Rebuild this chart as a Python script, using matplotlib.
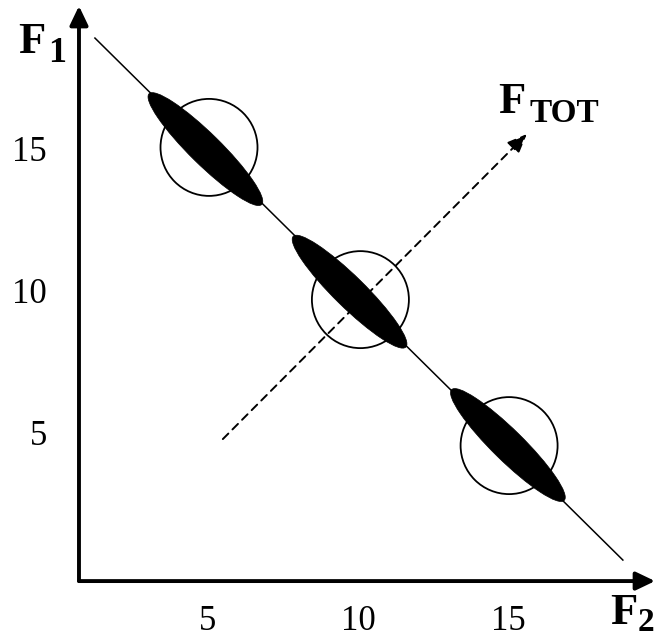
import numpy as np
import matplotlib
matplotlib.use("Agg")
import matplotlib.pyplot as plt
from matplotlib.patches import Ellipse
import matplotlib.transforms as mtransforms

# data
tick_vals = [5, 10, 15]
circle_x = [5.05, 10.08, 15.02]
circle_y = [15.18, 9.82, 4.68]
ell_x = [4.93, 9.72, 14.98]
ell_y = [15.12, 10.10, 4.70]
line_x = [1.26, 18.8]
line_y = [19.03, 0.65]
tot_start = (5.51, 4.91)
tot_end = (15.61, 15.65)
origin = (0.73, -0.09)
x_tip = (19.87, -0.09)
y_tip = (0.73, 20.16)

fig = plt.figure(figsize=(6.57, 6.4), dpi=100)
ax = fig.add_axes([0, 0, 1, 1])
ax.set_xlim(-1.894, 19.934)
ax.set_ylim(-2.165, 20.37)
ax.axis("off")

serif = "Liberation Serif"

# axes with arrows
ax_arrow = dict(arrowstyle="-|>,head_length=1.15,head_width=0.55", lw=2.8,
                color="black", shrinkA=0, shrinkB=0, mutation_scale=10)
ax.annotate("", xy=x_tip, xytext=origin, arrowprops=ax_arrow)
ax.annotate("", xy=y_tip, xytext=origin, arrowprops=ax_arrow)

# diagonal line
ax.plot(line_x, line_y, color="black", lw=1.1, zorder=2)

# dashed F_TOT arrow
ax.annotate("", xy=tot_end, xytext=tot_start,
            arrowprops=dict(arrowstyle="-|>,head_length=1.2,head_width=0.5",
                            lw=1.4, ls=(0, (4, 3)), color="black",
                            shrinkA=0, shrinkB=0, mutation_scale=10),
            zorder=3)

# circles and ellipses (sizes in inches around data centres)
for cx, cy in zip(circle_x, circle_y):
    tr = fig.dpi_scale_trans + mtransforms.ScaledTranslation(cx, cy, ax.transData)
    ax.add_patch(Ellipse((0, 0), 0.97, 0.97, transform=tr, fill=False,
                         edgecolor="black", lw=1.3, zorder=4))
for ex, ey in zip(ell_x, ell_y):
    tr = fig.dpi_scale_trans + mtransforms.ScaledTranslation(ex, ey, ax.transData)
    ax.add_patch(Ellipse((0, 0), 1.58, 0.31, angle=-44.5, transform=tr,
                         facecolor="black", edgecolor="black", lw=0.5, zorder=5))

# tick labels
for v in tick_vals:
    ax.text(v, -1.53, str(v), ha="center", va="center", fontsize=25, family=serif)
    ax.text(-0.33, v, str(v), ha="right", va="center", fontsize=25, family=serif)

# axis labels, positioned in pixels
px = mtransforms.IdentityTransform()
H = 640


def label(x, y, main, sub, sx, sy, subsize):
    fig.text(x, H - y, main, transform=px, family=serif, fontweight="bold",
             fontsize=32, ha="left", va="baseline")
    fig.text(sx, H - sy, sub, transform=px, family=serif, fontweight="bold",
             fontsize=subsize, ha="left", va="baseline")


label(18, 53, "F", "1", 48, 62, 26)
label(610, 624, "F", "2", 638, 631, 24)
label(498, 113, "F", "TOT", 530, 122, 24)

fig.savefig("out.png", dpi=100)
